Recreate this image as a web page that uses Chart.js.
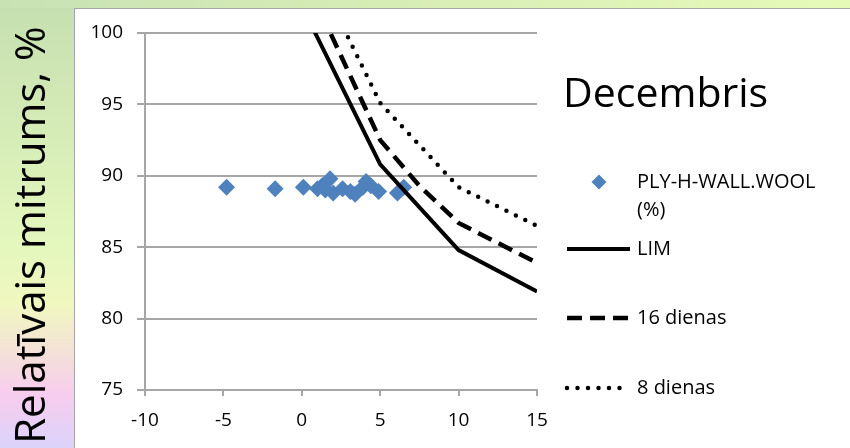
<!DOCTYPE html>
<html lang="lv">
<head>
<meta charset="UTF-8">
<title>Decembris</title>
<script src="https://cdn.jsdelivr.net/npm/chart.js@4/dist/chart.umd.min.js"></script>
<style>
  html, body { margin: 0; padding: 0; }
  body {
    width: 850px; height: 448px; overflow: hidden; position: relative;
    background: linear-gradient(to bottom, #c6dfb0 0%, #d3eab6 25%, #e4f7bd 55%, #f0f7bf 68%, #f7cdee 88%, #dcd3fb 100%);
  }
  #top-strip { position: absolute; left: 0; top: 0; width: 850px; height: 8px; background: linear-gradient(to right, #c9e2b4, #e6fab8); }
  #panel { position: absolute; left: 74px; top: 8px; width: 800px; height: 460px; background: #fff; border: 1px solid #a5a5a5; }
  #chart { position: absolute; left: 0; top: 0; }
</style>
</head>
<body>
<div id="top-strip"></div>
<div id="panel"></div>
<canvas id="chart" width="850" height="448"></canvas>
<script>
// axis ticks
const xTicks = [-10, -5, 0, 5, 10, 15];
const yTicks = [75, 80, 85, 90, 95, 100];

// measured points (temperature, relative humidity)
const woolTemp = [-4.8, -1.7, 0.1, 1.0, 1.3, 1.5, 1.8, 2.0, 2.6, 3.1, 3.4, 3.9, 4.1, 4.4, 4.9, 6.1, 6.5];
const woolRH = [89.2, 89.1, 89.2, 89.1, 89.3, 89.0, 89.8, 88.8, 89.1, 88.9, 88.7, 89.2, 89.6, 89.3, 88.9, 88.8, 89.2];

// limit curves
const limTemp = [0, 5, 10, 15];
const limRH = [101.9, 90.8, 84.8, 81.9];
const d16Temp = [0, 5, 7.5, 10, 15];
const d16RH = [104.3, 92.5, 89.3, 86.7, 83.9];
const d8Temp = [0, 5, 10, 15];
const d8RH = [106.3, 95.1, 89.2, 86.5];

const labels = ['PLY-H-WALL.WOOL (%)', 'LIM', '16 dienas', '8 dienas'];
const chartTitle = 'Decembris';
const yTitle = 'Relatīvais mitrums, %';

const FONT = '"Open Sans", "Liberation Sans", sans-serif';
const GRID = '#a6a6a6';
const BLUE = '#4f81bd';

const toPoints = (xs, ys) => xs.map((x, i) => ({ x: x, y: ys[i] }));

// title, y axis title and the legend on the right
const sidePlugin = {
    id: 'side',
    afterDraw(chart) {
        const ctx = chart.ctx;
        ctx.save();
        ctx.fillStyle = '#000';
        ctx.textAlign = 'left';
        ctx.textBaseline = 'alphabetic';
        ctx.font = '41px ' + FONT;
        ctx.fillText(chartTitle, 563, 107);

        ctx.save();
        ctx.translate(45, 235);
        ctx.rotate(-Math.PI / 2);
        ctx.textAlign = 'center';
        ctx.font = '42px ' + FONT;
        ctx.fillText(yTitle, 0, 0);
        ctx.restore();

        ctx.font = '20px ' + FONT;
        ctx.textBaseline = 'middle';
        // scatter entry
        const parts = labels[0].split(' ');
        ctx.fillText(parts[0], 637, 182);
        ctx.fillText(parts[1], 637, 210);
        ctx.fillStyle = BLUE;
        ctx.beginPath();
        ctx.moveTo(599, 174.5); ctx.lineTo(606.5, 182); ctx.lineTo(599, 189.5); ctx.lineTo(591.5, 182);
        ctx.closePath();
        ctx.fill();

        const rows = [
            { y: 249, ds: chart.data.datasets[1], end: 630 },
            { y: 318, ds: chart.data.datasets[2], end: 630 },
            { y: 388, ds: chart.data.datasets[3], end: 623 }
        ];
        rows.forEach(r => {
            ctx.strokeStyle = '#000';
            ctx.lineWidth = r.ds.borderWidth;
            ctx.lineCap = r.ds.borderCapStyle || 'butt';
            ctx.setLineDash(r.ds.borderDash || []);
            ctx.beginPath();
            ctx.moveTo(567, r.y);
            ctx.lineTo(r.end, r.y);
            ctx.stroke();
            ctx.setLineDash([]);
            ctx.fillStyle = '#000';
            ctx.fillText(r.ds.label, 637, r.y);
        });
        ctx.restore();
    }
};

new Chart(document.getElementById('chart'), {
    type: 'scatter',
    data: {
        datasets: [{
            label: labels[0],
            data: toPoints(woolTemp, woolRH),
            pointStyle: 'rectRot',
            pointRadius: 8.5,
            backgroundColor: BLUE,
            borderColor: BLUE,
            borderWidth: 0,
            order: 1
        }, {
            label: labels[1],
            data: toPoints(limTemp, limRH),
            showLine: true,
            pointRadius: 0,
            borderColor: '#000',
            borderWidth: 4,
            order: 0
        }, {
            label: labels[2],
            data: toPoints(d16Temp, d16RH),
            showLine: true,
            pointRadius: 0,
            borderColor: '#000',
            borderWidth: 4.5,
            borderDash: [15, 8],
            order: 0
        }, {
            label: labels[3],
            data: toPoints(d8Temp, d8RH),
            showLine: true,
            pointRadius: 0,
            borderColor: '#000',
            borderWidth: 4.5,
            borderCapStyle: 'round',
            borderDash: [0, 10.5],
            order: 0
        }]
    },
    options: {
        responsive: false,
        animation: false,
        layout: { padding: { left: 0, right: 313, top: 33, bottom: 0 } },
        plugins: { legend: { display: false }, tooltip: { enabled: false } },
        scales: {
            x: {
                type: 'linear',
                min: xTicks[0],
                max: xTicks[xTicks.length - 1],
                afterBuildTicks: s => { s.ticks = xTicks.map(v => ({ value: v })); },
                afterFit: s => { s.height = 58; },
                grid: { drawOnChartArea: false, color: GRID, lineWidth: 2, tickLength: 6 },
                border: { color: GRID, width: 2 },
                ticks: { color: '#000', padding: 13, font: { family: FONT, size: 19 } }
            },
            y: {
                type: 'linear',
                min: yTicks[0],
                max: yTicks[yTicks.length - 1],
                afterBuildTicks: s => { s.ticks = yTicks.map(v => ({ value: v })); },
                afterFit: s => { s.width = 145; },
                grid: { color: GRID, lineWidth: 2, tickLength: 8 },
                border: { color: GRID, width: 2 },
                ticks: { color: '#000', padding: 14, font: { family: FONT, size: 19 } }
            }
        }
    },
    plugins: [sidePlugin]
});
</script>
</body>
</html>
